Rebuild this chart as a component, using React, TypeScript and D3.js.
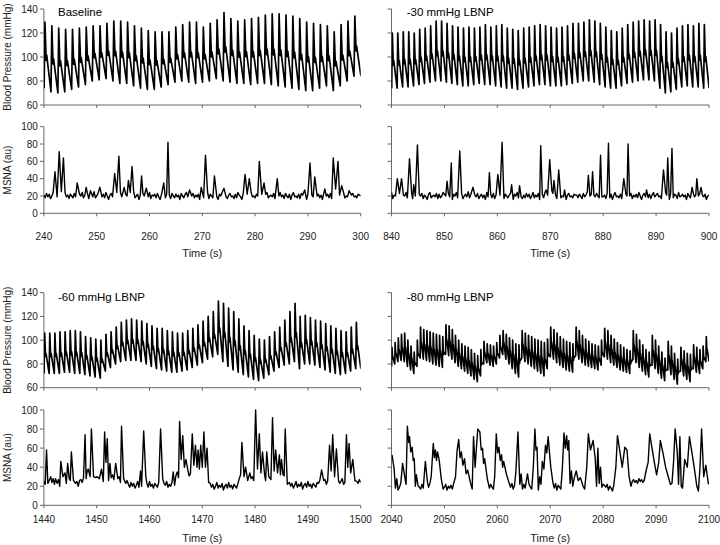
import React from "react";
import * as d3 from "d3";

// ---------------- DATA ----------------
const panelTitles = ["Baseline", "-30 mmHg LBNP", "-60 mmHg LBNP", "-80 mmHg LBNP"];
const panelStarts = [240, 840, 1440, 2040];
const bpTicks = [60, 80, 100, 120, 140];
const msnaTicks = [0, 20, 40, 60, 80, 100];

// Beat-by-beat systolic / diastolic pressure (mmHg)
const sysBaseline = [129,126,124,123,123,124,125,126,126,128,130,130,129,126,124,122,121,121,121,125,127,129,129,125,128,131,137,132,130,131,132,133,135,136,136,135,134,132,129,128,127,126,121,127,130,134];
const diaBaseline = [74,71,70,71,73,75,77,80,81,82,80,78,78,76,74,73,73,75,77,79,80,79,78,79,80,82,80,79,78,78,77,78,78,77,76,75,74,73,72,72,74,76,72,76,80,84];

const sysL30 = [120,120,121,121,120,123,124,126,130,130,128,126,125,124,125,124,125,127,
  125,126,127,124,123,122,124,125,126,127,126,125,124,125,126,128,128,129,131,130,128,125,122,121,124,127,129,130,131,130,131,127,121,120,124,126,127,126,128,127];
const diaL30 = [74,74,75,75,76,77,78,79,80,80,79,78,77,76,76,77,78,77,
  77,76,75,74,74,73,74,75,76,77,77,76,76,76,77,78,79,80,80,79,77,75,74,74,76,78,79,80,81,81,80,74,70,71,73,75,76,75,75,74];

const sysL60 = [106,106,106,107,107,108,108,107,103,102,101,100,105,107,111,115,117,118,117,116,114,112,110,110,108,107,106,106,108,110,113,116,120,124,133,131,127,124,118,112,108,104,101,100,103,107,111,117,124,131,120,121,119,117,116,114,112,110,108,107,111,115];
const diaL60 = [72,72,72,72,73,73,72,72,71,70,69,68,74,77,80,82,83,83,83,82,80,78,76,75,74,73,73,74,75,77,79,81,84,86,88,82,78,75,73,71,69,67,66,68,71,74,77,79,80,82,76,80,80,79,77,75,73,72,71,72,74,76];

const sysL80 = [94,98,102,105,106,100,95,90,100,111,109,108,107,106,105,104,103,113,112,109,104,100,97,95,94,92,89,87,92,99,97,96,95,98,104,108,105,102,100,97,96,108,106,104,103,101,100,99,98,101,111,109,106,103,101,99,98,97,111,108,104,101,99,97,96,95,100,110,108,104,101,98,96,94,92,91,108,105,100,96,92,90,104,100,95,90,85,99,95,89,84,94,91,89,88,96,94,92,95,103];
const diaL80 = [78,80,82,83,82,78,75,72,78,85,84,83,82,80,79,78,77,88,87,84,81,78,76,74,72,70,67,65,70,80,81,79,78,80,85,88,84,80,76,72,69,85,82,80,78,76,74,72,70,76,86,84,81,79,77,75,74,73,87,84,81,79,78,77,76,75,79,86,84,81,79,77,75,74,73,72,84,81,77,74,71,69,79,76,72,68,66,75,71,67,63,74,70,67,65,76,73,72,76,82];

// MSNA background activity sampled every 0.25 s (au)
const msnaBaseBaseline = [
  21,18,23,19,22,17,20,24,18,21,19,23,16,20,22,18,24,19,21,17,
  22,20,18,23,19,21,16,22,20,24,18,21,19,23,17,20,22,19,25,18,
  20,23,17,21,19,22,18,24,20,16,21,23,19,20,18,22,17,21,24,19,
  21,18,22,20,17,23,19,21,25,18,20,22,16,21,19,23,20,18,22,19,
  24,17,21,20,22,18,23,19,16,21,20,24,18,22,19,21,17,23,20,18,
  22,19,21,16,23,20,18,22,24,19,21,17,20,23,18,21,19,22,16,20,
  23,18,21,19,24,17,22,20,18,21,23,19,16,22,20,24,18,21,19,17,
  21,23,19,20,17,22,18,24,21,19,16,23,20,18,22,21,17,24,19,20,
  18,22,20,23,17,21,19,16,22,24,18,20,21,19,23,17,22,18,20,24,
  19,21,17,23,20,18,22,16,21,24,19,20,18,22,17,23,21,19,20,16,
  22,24,18,21,19,23,17,20,22,18,21,16,24,19,20,22,18,23,17,21,
  20,18,23,19,21,17,22,24,18,20,19,22,16,21,23,19,20,18,22,21,20];
const msnaBaseL30 = [
  24,17,21,20,22,18,23,19,16,21,20,24,18,22,19,21,17,23,20,18,
  18,22,20,23,17,21,19,16,22,24,18,20,21,19,23,17,22,18,20,24,
  22,20,18,23,19,21,16,22,20,24,18,21,19,23,17,20,22,19,25,18,
  22,24,18,21,19,23,17,20,22,18,21,16,24,19,20,22,18,23,17,21,
  23,18,21,19,24,17,22,20,18,21,23,19,16,22,20,24,18,21,19,17,
  21,18,23,19,22,17,20,24,18,21,19,23,16,20,22,18,24,19,21,17,
  20,18,23,19,21,17,22,24,18,20,19,22,16,21,23,19,20,18,22,21,
  21,18,22,20,17,23,19,21,25,18,20,22,16,21,19,23,20,18,22,19,
  19,21,17,23,20,18,22,16,21,24,19,20,18,22,17,23,21,19,20,16,
  20,23,17,21,19,22,18,24,20,16,21,23,19,20,18,22,17,21,24,19,
  21,23,19,20,17,22,18,24,21,19,16,23,20,18,22,21,17,24,19,20,
  22,19,21,16,23,20,18,22,24,19,21,17,20,23,18,21,19,22,16,20,21];
const msnaBaseL60 = [
  25,22,27,23,26,21,24,28,22,25,23,27,20,24,26,22,28,23,25,21,26,24,22,27,23,25,20,26,
  27,24,29,25,28,23,26,30,24,27,25,29,22,26,28,24,31,25,27,23,28,26,24,29,25,27,22,28,26,30,24,27,25,29,23,26,
  22,19,24,20,23,18,21,25,19,22,20,24,17,21,23,19,25,20,22,18,23,21,19,24,20,22,17,23,21,25,19,22,20,24,18,21,
  31,35,29,33,36,30,34,28,32,37,31,33,29,35,32,30,34,36,31,33,28,34,32,30,
  21,18,23,19,22,17,20,24,18,21,19,23,16,20,22,18,24,19,21,17,22,20,18,23,
  28,32,26,30,33,27,31,29,34,28,30,26,32,29,31,27,33,30,28,32,26,31,29,34,27,30,28,33,29,31,26,32,30,28,31,27,
  22,19,24,20,23,18,21,25,19,22,20,24,17,21,23,19,25,20,22,18,23,21,19,24,
  23,26,21,25,24,27,22,26,28,23,25,21,24,27,22,26,23,25,28,22,24,26,21,25,27,23,24,26,22,25,23,27,24];
const msnaBaseL80 = [
  20,17,22,18,21,16,19,23,17,20,18,22,15,19,21,17,23,18,20,16,
  21,19,17,22,18,20,15,21,19,23,17,20,18,22,16,19,21,18,24,17,
  19,22,16,20,18,21,17,23,19,15,20,22,18,19,17,21,16,20,23,18,
  20,17,21,19,16,22,18,20,24,17,19,21,15,20,18,22,19,17,21,18,
  23,16,20,19,21,17,22,18,15,20,19,23,17,21,18,20,16,22,19,17,
  21,18,20,15,22,19,17,21,23,18,20,16,19,22,17,20,18,21,15,19,
  22,17,20,18,23,16,21,19,17,20,22,18,15,21,19,23,17,20,18,16,
  20,22,18,19,16,21,17,23,20,18,15,22,19,17,21,20,16,23,18,19,
  17,21,19,22,16,20,18,15,21,23,17,19,20,18,22,16,21,17,19,23,
  18,20,25,27,24,26,23,28,25,27,24,26,23,27,25,22,20,18,19,15,
  21,23,17,20,18,22,16,19,21,17,20,15,23,18,19,21,17,22,16,20,
  19,17,22,18,20,16,21,23,17,19,18,21,15,20,22,18,19,17,21,20,19];

// MSNA burst vertices [time (s), amplitude (au)]
const msnaBurstsBaseline = [[242.1,48],[242.9,71],[243.3,25],[243.7,64],[246.3,35],[248.0,30],[248.8,26],[250.6,30],[253.4,46],[253.8,24],[254.2,66],[255.2,30],[256.0,38],[256.35,24],[256.7,54],[258.5,43],[259.4,29],[262.7,35],[263.5,82],[267.6,27],[269.8,30],[270.6,67],[272.3,43],[274.1,29],[278.1,45],[278.9,40],[280.8,60],[281.25,22],[281.7,35],[284.2,40],[289.4,27],[290.4,58],[291.3,42],[293.2,28],[294.8,64],[295.25,28],[295.7,60],[296.4,32],[297.8,26]];
const msnaBurstsL30 = [[841.1,40],[841.9,40],[843.4,63],[843.8,24],[844.2,33],[844.9,79],[850.5,37],[851.3,58],[852.9,72],[855.4,30],[858.5,47],[860.1,45],[860.9,82],[862.7,33],[864.2,32],[868.2,78],[869.2,27],[869.9,62],[870.3,26],[870.7,38],[871.6,50],[872.7,27],[877.2,44],[878.0,48],[879.5,67],[881.0,81],[883.9,40],[884.3,22],[884.7,80],[888.2,27],[891.4,50],[891.8,24],[892.2,64],[893.0,75],[896.8,30],[897.7,40],[898.5,30]];
const msnaBurstsL60 = [[1440.5,58],[1441.3,30],[1442.2,28],[1443.2,46],[1443.6,30],[1444.0,34],[1444.5,44],[1444.8,28],[1445.2,56],[1445.6,26],[1447.8,74],[1448.2,36],[1448.4,38],[1449.0,80],[1449.4,30],[1450.1,30],[1450.9,38],[1451.5,77],[1451.75,45],[1452.0,70],[1452.5,44],[1453.0,32],[1453.6,44],[1454.0,28],[1454.7,83],[1455.1,28],[1458.3,36],[1458.9,78],[1459.3,30],[1462.1,80],[1462.5,28],[1464.5,35],[1465.7,88],[1466.0,48],[1466.3,73],[1466.6,40],[1466.9,48],[1467.3,36],[1468.1,75],[1468.4,42],[1468.7,63],[1469.0,40],[1469.2,58],[1469.45,38],[1469.7,63],[1470.0,40],[1470.3,77],[1470.6,40],[1470.9,60],[1471.2,24],
  [1477.5,66],[1477.9,30],[1478.2,40],[1478.6,26],[1480.1,100],[1480.45,38],[1480.8,75],[1481.1,34],[1481.4,56],[1481.8,32],[1482.2,56],[1482.6,30],[1483.3,92],[1483.6,36],[1483.9,58],[1484.25,34],[1484.6,53],[1484.8,32],[1485.0,48],[1485.3,32],[1485.7,80],[1486.1,22],
  [1492.6,37],[1493.0,26],[1494.1,63],[1494.4,36],[1494.7,74],[1495.05,30],[1495.4,59],[1495.8,26],[1497.3,74],[1497.55,40],[1497.8,65],[1498.1,34],[1498.5,48],[1498.9,26]];
const msnaBurstsL80 = [[2040.1,53],[2040.5,38],[2041.0,28],
  [2042.1,44],[2042.5,30],[2043.0,83],[2043.25,66],[2043.4,72],[2043.65,56],[2043.9,61],[2044.1,47],[2044.3,49],[2044.7,32],
  [2046.4,46],[2046.8,24],
  [2047.5,30],[2047.9,65],[2048.1,50],[2048.3,58],[2048.5,47],[2048.7,56],[2049.0,48],[2049.4,28],
  [2052.1,30],[2052.4,58],[2052.7,69],[2052.95,50],[2053.2,56],[2053.5,42],[2053.8,49],[2054.1,33],[2054.4,37],[2054.9,24],
  [2055.5,72],[2055.8,40],[2056.3,80],[2056.7,77],[2056.95,58],[2057.2,60],[2057.4,44],[2057.6,49],[2058.1,28],
  [2059.5,30],[2059.8,75],[2060.05,55],[2060.3,61],[2060.55,47],[2060.8,53],[2061.0,40],[2061.2,46],[2061.7,33],[2062.2,24],
  [2063.5,35],[2063.9,77],[2064.5,33],[2065.0,22],
  [2065.7,33],[2066.0,22],
  [2066.8,40],[2067.1,80],[2067.3,58],[2067.5,61],[2068.0,30],[2068.5,46],[2068.8,38],[2069.1,63],[2069.35,55],[2069.6,72],[2070.1,40],[2070.5,24],
  [2072.3,40],[2072.6,76],[2072.85,60],[2073.1,73],[2073.3,58],[2073.5,68],[2074.0,36],[2074.5,28],[2074.9,36],[2075.3,26],[2075.7,29],[2076.2,20],
  [2076.9,40],[2077.2,75],[2077.6,58],[2078.1,68],[2078.5,49],[2079.0,60],[2079.5,40],[2080.0,22],
  [2082.4,40],[2082.7,73],[2083.2,55],[2083.6,40],[2084.1,61],[2084.5,58],[2084.9,30],
  [2088.1,36],[2088.5,45],[2088.8,75],[2089.2,61],[2089.7,44],[2090.1,32],[2090.5,45],[2090.8,68],[2091.3,55],[2091.8,40],[2092.2,32],[2092.7,22],
  [2093.3,45],[2093.6,80],[2094.0,56],[2094.5,72],[2095.0,18],[2095.4,48],[2095.9,40],[2096.3,72],[2096.7,58],[2097.2,40],[2097.7,20],
  [2098.3,40],[2098.6,80],[2099.0,30],[2099.4,42],[2099.9,22]];

// ---------------- LAYOUT ----------------
const FONT = "'Liberation Sans', Arial, Helvetica, sans-serif";
const COLS = [[43.9, 360.7], [391.5, 709]];
const ROWS = [
  { bp: [105, 9], msna: [213.3, 126.7], xLab: 239.5, xTitle: 257, title: 16 },
  { bp: [387.7, 292.7], msna: [505.3, 410], xLab: 523, xTitle: 542, title: 301 },
];
const AXIS = "#666";
const BASE_STEP = 0.25;

const panels = [
  { title: panelTitles[0], start: panelStarts[0], col: 0, row: 0, sys: sysBaseline, dia: diaBaseline, base: msnaBaseBaseline, bursts: msnaBurstsBaseline },
  { title: panelTitles[1], start: panelStarts[1], col: 1, row: 0, sys: sysL30, dia: diaL30, base: msnaBaseL30, bursts: msnaBurstsL30 },
  { title: panelTitles[2], start: panelStarts[2], col: 0, row: 1, sys: sysL60, dia: diaL60, base: msnaBaseL60, bursts: msnaBurstsL60 },
  { title: panelTitles[3], start: panelStarts[3], col: 1, row: 1, sys: sysL80, dia: diaL80, base: msnaBaseL80, bursts: msnaBurstsL80 },
];

function bpPoints(start: number, sys: number[], dia: number[]) {
  const n = sys.length;
  const T = 60 / n;
  const pts: [number, number][] = [];
  for (let i = 0; i < n; i++) {
    const t0 = start + (i + 0.03) * T;
    const d = dia[i], s = sys[i], pp = s - d;
    pts.push([t0, d], [t0 + 0.12 * T, s], [t0 + 0.3 * T, d + 0.42 * pp], [t0 + 0.38 * T, d + 0.5 * pp]);
    if (i === n - 1) pts.push([t0 + T, d]);
  }
  return pts;
}

function msnaPoints(start: number, base: number[], bursts: number[][]) {
  const pts: [number, number][] = [];
  base.forEach((v, k) => {
    const t = start + BASE_STEP * k;
    if (!bursts.some(([bt]) => Math.abs(bt - t) < 0.2)) pts.push([t, v]);
  });
  bursts.forEach(([t, v]) => pts.push([t, v]));
  pts.sort((a, b) => a[0] - b[0]);
  return pts;
}

function Panel({ p, idx }: { p: any; idx: number }) {
  const [x0, x1] = COLS[p.col];
  const R = ROWS[p.row];
  const x = d3.scaleLinear().domain([p.start, p.start + 60]).range([x0, x1]);
  const yBP = d3.scaleLinear().domain([60, 140]).range(R.bp);
  const yMS = d3.scaleLinear().domain([0, 100]).range(R.msna);
  const xTicks = d3.range(p.start, p.start + 61, 10);
  const bpLine = d3.line<[number, number]>().x((d) => x(d[0])).y((d) => yBP(d[1]));
  const msLine = d3.line<[number, number]>().x((d) => x(d[0])).y((d) => yMS(d[1]));
  const showY = p.col === 0;
  const clipId = `clip${idx}`;

  const yAxis = (scale: any, ticks: number[]) => (
    <g>
      <line x1={x0} x2={x0} y1={scale(ticks[0])} y2={scale(ticks[ticks.length - 1])} stroke={AXIS} />
      {ticks.map((t) => (
        <g key={t}>
          <line x1={x0 - 4} x2={x0} y1={scale(t)} y2={scale(t)} stroke={AXIS} />
          {showY && (
            <text x={x0 - 6} y={scale(t) + 3.6} textAnchor="end" fontSize={10} fill="#222" fontFamily={FONT}>
              {t}
            </text>
          )}
        </g>
      ))}
    </g>
  );
  const xAxis = (yPos: number, labels: boolean) => (
    <g>
      <line x1={x0} x2={x1} y1={yPos} y2={yPos} stroke={AXIS} />
      {xTicks.map((t) => (
        <g key={t}>
          <line x1={x(t)} x2={x(t)} y1={yPos} y2={yPos + 3} stroke={AXIS} />
          {labels && (
            <text x={x(t)} y={R.xLab} textAnchor="middle" fontSize={10} fill="#222" fontFamily={FONT}>
              {t}
            </text>
          )}
        </g>
      ))}
    </g>
  );

  return (
    <g>
      <defs>
        <clipPath id={clipId}>
          <rect x={x0} y={0} width={x1 - x0} height={545} />
        </clipPath>
      </defs>
      {yAxis(yBP, bpTicks)}
      {xAxis(R.bp[0], false)}
      {yAxis(yMS, msnaTicks)}
      {xAxis(R.msna[0], true)}
      <g clipPath={`url(#${clipId})`}>
        <path d={bpLine(bpPoints(p.start, p.sys, p.dia)) || ""} fill="none" stroke="#000" strokeWidth={1.7} strokeLinejoin="round" />
        <path d={msLine(msnaPoints(p.start, p.base, p.bursts)) || ""} fill="none" stroke="#000" strokeWidth={1.4} strokeLinejoin="round" />
      </g>
      <text x={p.col === 0 ? 58 : 406.7} y={R.title} fontSize={11.5} fill="#000" fontFamily={FONT}>
        {p.title}
      </text>
      <text x={(x0 + x1) / 2} y={R.xTitle} textAnchor="middle" fontSize={11} fill="#222" fontFamily={FONT}>
        Time (s)
      </text>
      {showY && (
        <>
          <text transform={`translate(11,${(R.bp[0] + R.bp[1]) / 2}) rotate(-90)`} textAnchor="middle" fontSize={10} fill="#222" fontFamily={FONT}>
            Blood Pressure (mmHg)
          </text>
          <text transform={`translate(11,${(R.msna[0] + R.msna[1]) / 2}) rotate(-90)`} textAnchor="middle" fontSize={10} fill="#222" fontFamily={FONT}>
            MSNA (au)
          </text>
        </>
      )}
    </g>
  );
}

export default function App() {
  return (
    <svg width={720} height={545} style={{ position: "absolute", left: 0, top: 0, background: "#fff" }}>
      <rect width={720} height={545} fill="#fff" />
      {panels.map((p, i) => (
        <Panel key={i} p={p} idx={i} />
      ))}
    </svg>
  );
}
